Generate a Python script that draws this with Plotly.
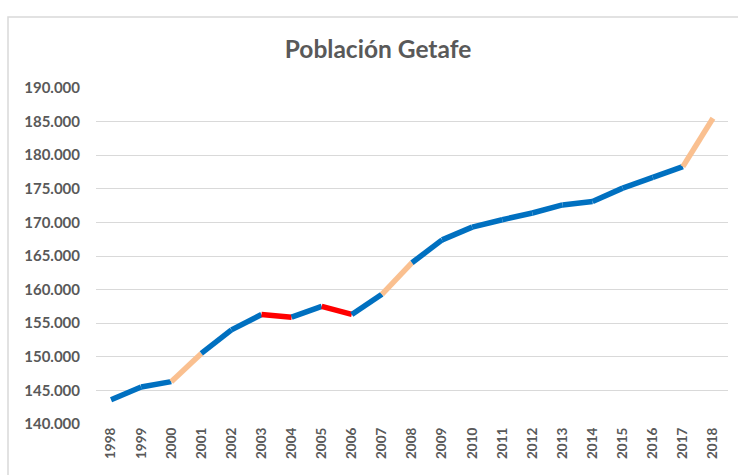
import plotly.graph_objects as go

years = [str(y) for y in range(1998, 2019)]
population = [143600, 145500, 146300, 150500, 154000, 156300, 155900, 157500,
              156300, 159300, 164000, 167400, 169300, 170400, 171400, 172600,
              173100, 175100, 176700, 178300, 185500]
y_ticks = list(range(140000, 190001, 5000))

BLUE = "#0070C0"
PEACH = "#FAC090"
RED = "#FF0000"
TXT = "#595959"
GRID = "#D9D9D9"
FONT = "Lato"

fig = go.Figure()
for i in range(len(years) - 1):
    d = population[i + 1] - population[i]
    col = RED if d < 0 else (PEACH if d >= 4000 else BLUE)
    fig.add_trace(go.Scatter(
        x=[i, i + 1], y=[population[i], population[i + 1]],
        mode="lines", line=dict(color=col, width=5.5), hoverinfo="skip",
        showlegend=False))

fig.update_layout(
    width=738, height=475,
    margin=dict(l=96, r=10, t=88, b=51),
    paper_bgcolor="white", plot_bgcolor="white",
    separators=",.",
    title=dict(text="<b>Población Getafe</b>", x=378 / 738, xanchor="center",
               y=1 - 49 / 475, yanchor="middle",
               font=dict(family=FONT, size=24.5, color=TXT)),
    xaxis=dict(range=[-0.5, len(years) - 0.5], tickmode="array",
               tickvals=list(range(len(years))), ticktext=years,
               tickangle=-90, showgrid=False, zeroline=False, showline=False,
               ticks="", tickfont=dict(family=FONT, size=13.5, color=TXT, weight="bold")),
    yaxis=dict(range=[140000, 190000], tickvals=y_ticks, tickformat=",.0f",
               showgrid=True, gridcolor=GRID, gridwidth=1, zeroline=False,
               showline=False, ticks="", ticklabelstandoff=15,
               tickfont=dict(family=FONT, size=15, color=TXT, weight="bold")),
    shapes=[dict(type="rect", xref="paper", yref="paper",
                 x0=-88 / 632, x1=1.2, y0=-0.5, y1=(424 - 17) / 336,
                 line=dict(color=GRID, width=1.5), fillcolor="rgba(0,0,0,0)",
                 layer="below")],
)
fig.write_html("out.html", config={"displayModeBar": False},
               post_script="document.body.style.margin='0';")
